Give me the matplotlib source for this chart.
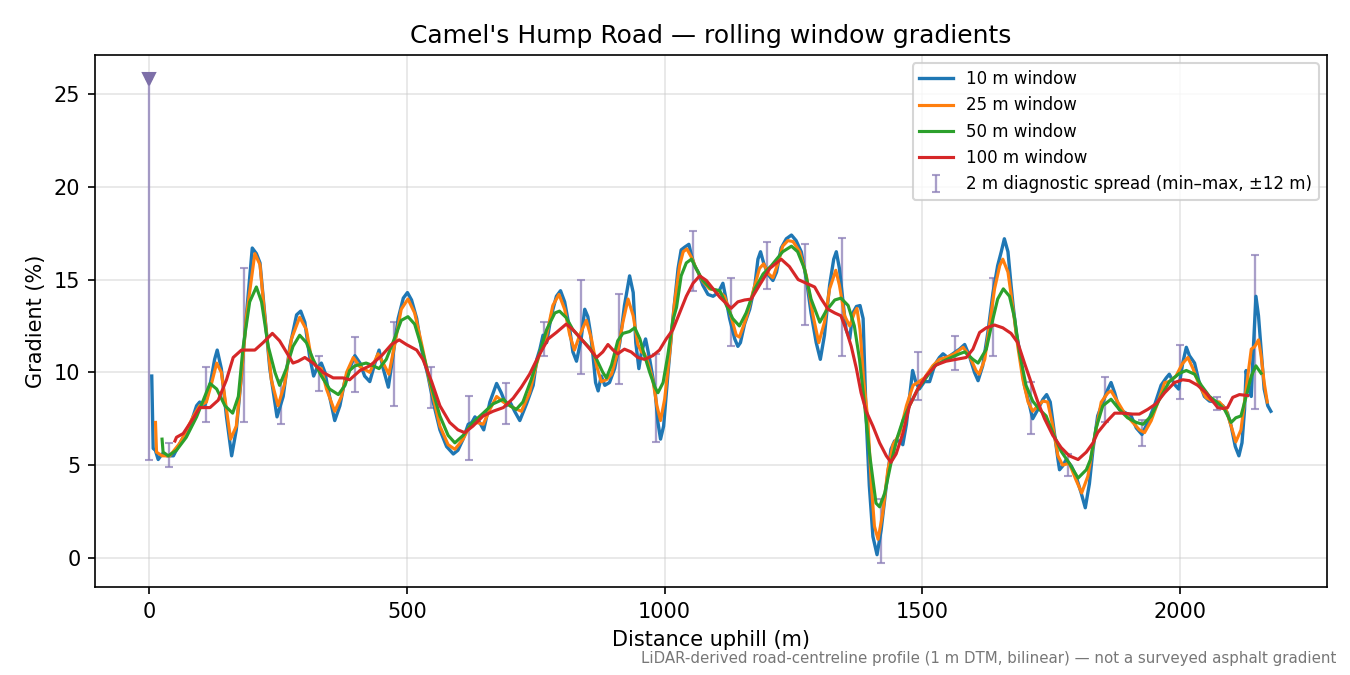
import matplotlib
matplotlib.use('Agg')
import matplotlib.pyplot as plt
import numpy as np

# 10 m window
x10 = [5, 7.8, 12, 17.5, 25, 35, 47, 60, 79, 92, 98, 108, 118, 127, 132, 140, 150, 160, 169, 179,
       189, 200, 208, 215, 224, 234, 248, 260, 273, 286, 294, 302, 311, 319, 325, 334, 341, 350, 360, 370,
       380, 389, 399, 409, 418, 428, 438, 446, 454, 464, 473, 483, 493, 501, 509, 519, 528, 541, 551, 564,
       577, 590, 599, 609, 619, 626, 632, 641, 649, 661, 674, 683, 693, 700, 709, 719, 732, 745, 752, 758,
       764, 771, 780, 790, 798, 806, 816, 822, 829, 838, 845, 851, 856, 861, 866, 871, 877, 884, 893, 903,
       913, 922, 932, 939, 944, 950, 955, 963, 971, 981, 987, 992, 998, 1006, 1016, 1026, 1032, 1039, 1047, 1052,
       1058, 1065, 1074, 1084, 1094, 1104, 1113, 1118, 1126, 1136, 1142, 1147, 1155, 1165, 1175, 1181, 1186, 1192, 1200, 1210,
       1217, 1226, 1236, 1246, 1255, 1265, 1275, 1284, 1294, 1302, 1310, 1320, 1328, 1333, 1339, 1346, 1352, 1359, 1365, 1372,
       1379, 1385, 1388, 1391, 1397, 1404, 1412, 1420, 1430, 1439, 1446, 1456, 1462, 1469, 1476, 1481, 1487, 1494, 1504, 1514,
       1524, 1533, 1540, 1549, 1559, 1572, 1582, 1591, 1601, 1608, 1617, 1627, 1637, 1646, 1653, 1659, 1666, 1672, 1676, 1682,
       1688, 1698, 1708, 1714, 1724, 1734, 1741, 1748, 1756, 1763, 1766, 1772, 1779, 1789, 1798, 1808, 1816, 1824, 1831, 1840,
       1850, 1860, 1866, 1873, 1882, 1895, 1905, 1915, 1926, 1937, 1950, 1963, 1973, 1979, 1989, 1997, 2005, 2012, 2018, 2028,
       2037, 2047, 2057, 2070, 2083, 2092, 2099, 2107, 2114, 2120, 2125, 2128, 2133, 2138, 2142, 2147, 2152, 2157, 2163, 2170,
       2176]
y10 = [9.8, 5.9, 5.8, 5.3, 5.6, 5.5, 5.5, 6.2, 7.1, 8.2, 8.4, 8.2, 9.3, 10.7, 11.2, 10.2, 7.6, 5.5, 6.9, 9.8,
       13.2, 16.7, 16.4, 15.9, 13.2, 10.2, 7.6, 8.7, 11.4, 13.1, 13.3, 12.7, 10.9, 9.8, 10.2, 10.5, 10.0, 8.7, 7.4, 8.2,
       9.6, 10.2, 10.9, 10.5, 9.8, 9.5, 10.5, 11.2, 10.2, 9.2, 10.9, 12.9, 14.0, 14.3, 13.9, 12.9, 11.3, 9.8, 8.4, 6.9,
       6.0, 5.6, 5.8, 6.4, 7.2, 7.3, 7.6, 7.3, 6.9, 8.4, 9.4, 8.9, 8.2, 8.4, 7.9, 7.4, 8.3, 9.3, 10.7, 11.25,
       12.0, 11.6, 13.05, 14.1, 14.4, 13.8, 12.3, 11.1, 10.6, 11.8, 13.4, 13.0, 12.15, 10.9, 9.45, 9.0, 9.8, 9.3, 9.45, 10.2,
       11.6, 13.6, 15.2, 14.3, 11.6, 10.2, 11.1, 11.8, 10.7, 9.1, 7.3, 6.4, 7.1, 9.8, 12.9, 15.6, 16.6, 16.75, 16.9, 16.3,
       15.75, 15.4, 14.7, 14.2, 14.1, 14.3, 14.8, 14.1, 12.9, 11.8, 11.4, 11.6, 12.6, 13.4, 14.7, 16.1, 16.5, 15.9, 15.3, 14.95,
       15.4, 16.7, 17.2, 17.4, 17.1, 16.5, 15.0, 13.2, 11.6, 10.7, 12.0, 14.7, 16.1, 16.5, 15.6, 13.8, 12.3, 11.8, 13.2, 13.55,
       13.6, 12.9, 10.2, 7.5, 3.9, 1.15, 0.17, 1.5, 3.9, 5.85, 6.3, 6.3, 6.1, 7.2, 8.9, 10.1, 9.5, 9.1, 9.5, 9.5,
       10.4, 10.8, 11.0, 10.8, 11.0, 11.25, 11.5, 10.9, 10.0, 9.55, 10.35, 12.15, 14.3, 15.75, 16.5, 17.2, 16.5, 14.7, 13.6, 12.15,
       11.25, 9.3, 8.2, 7.5, 8.0, 8.55, 8.8, 8.4, 6.75, 5.3, 4.75, 4.95, 5.3, 4.95, 4.4, 3.5, 2.7, 4.0, 5.85, 7.65,
       8.4, 9.1, 9.45, 8.9, 8.0, 7.8, 7.65, 7.0, 6.65, 7.3, 8.2, 9.3, 9.7, 9.9, 9.35, 9.1, 10.5, 11.35, 10.9, 10.5,
       9.45, 8.7, 8.45, 8.4, 8.2, 7.8, 7.1, 6.0, 5.5, 6.2, 8.0, 10.1, 9.1, 8.7, 11.25, 14.1, 13.05, 11.25, 9.1, 8.2,
       7.9]

# 25 m window
x25 = [12.3, 14.3, 25, 40, 60, 85, 98, 111, 121, 131, 140, 150, 158, 169, 179, 189, 205, 215, 224, 237,
       250, 263, 276, 292, 305, 315, 325, 334, 344, 360, 373, 383, 396, 409, 428, 444, 454, 465, 477, 489,
       502, 515, 528, 544, 564, 580, 593, 609, 622, 635, 648, 661, 674, 687, 706, 722, 738, 751, 761, 771,
       783, 795, 806, 816, 825, 835, 848, 858, 868, 877, 887, 897, 909, 919, 929, 939, 948, 955, 961, 968,
       977, 985, 992, 1000, 1010, 1019, 1029, 1036, 1043, 1052, 1061, 1074, 1087, 1103, 1116, 1126, 1139, 1145, 1158, 1171,
       1184, 1192, 1202, 1210, 1220, 1229, 1239, 1249, 1262, 1275, 1288, 1299, 1310, 1320, 1332, 1339, 1349, 1359, 1368, 1373,
       1379, 1386, 1394, 1401, 1407, 1414, 1423, 1433, 1443, 1456, 1469, 1482, 1491, 1504, 1520, 1533, 1546, 1562, 1579, 1591,
       1604, 1610, 1621, 1630, 1640, 1650, 1656, 1666, 1676, 1685, 1695, 1705, 1714, 1724, 1734, 1743, 1753, 1763, 1772, 1785,
       1798, 1809, 1821, 1834, 1847, 1860, 1866, 1879, 1892, 1905, 1921, 1931, 1944, 1957, 1970, 1979, 1992, 2004, 2015, 2025,
       2037, 2050, 2063, 2076, 2089, 2099, 2108, 2118, 2128, 2138, 2145, 2152, 2157, 2163, 2169]
y25 = [7.3, 5.7, 5.5, 5.5, 6.2, 7.6, 8.2, 8.4, 9.4, 10.5, 10.0, 8.0, 6.4, 7.1, 9.8, 13.1, 16.4, 15.8, 13.1, 9.6,
       8.2, 9.4, 11.8, 12.97, 12.3, 10.7, 10.3, 10.2, 9.1, 7.9, 8.7, 10.0, 10.8, 10.3, 10.0, 11.0, 10.5, 9.9, 11.6, 13.4,
       13.95, 13.2, 11.6, 9.5, 7.1, 6.1, 5.85, 6.4, 7.1, 7.3, 7.2, 8.0, 8.7, 8.4, 8.1, 7.9, 8.9, 10.4, 11.3, 12.0,
       13.6, 14.2, 13.4, 12.0, 11.2, 12.0, 12.8, 11.8, 10.35, 9.5, 9.6, 9.9, 11.1, 12.7, 13.95, 13.05, 11.5, 11.1, 11.0, 10.5,
       9.6, 8.2, 7.4, 8.55, 11.1, 13.7, 15.75, 16.5, 16.65, 16.2, 15.6, 14.9, 14.5, 14.4, 14.1, 13.3, 12.0, 11.9, 12.9, 14.3,
       15.6, 15.85, 15.3, 15.1, 15.9, 16.8, 17.1, 17.05, 16.5, 15.2, 13.05, 11.6, 12.7, 14.5, 15.5, 14.7, 13.05, 12.5, 13.2, 13.45,
       12.3, 9.6, 7.5, 3.9, 1.7, 1.0, 2.4, 4.75, 6.1, 6.7, 8.2, 9.3, 9.45, 9.7, 10.35, 10.7, 10.8, 11.0, 11.35, 10.9,
       10.1, 9.9, 10.7, 12.5, 14.5, 15.75, 16.1, 15.4, 13.4, 11.4, 9.6, 8.4, 7.9, 8.2, 8.45, 8.4, 7.1, 5.5, 5.0, 5.1,
       4.2, 3.5, 4.4, 6.5, 8.4, 8.9, 9.0, 8.4, 7.8, 7.4, 6.9, 6.75, 7.4, 8.4, 9.45, 9.5, 9.8, 10.45, 10.8, 10.2,
       9.3, 8.65, 8.45, 8.4, 8.0, 7.1, 6.25, 6.9, 9.1, 11.25, 11.4, 11.75, 10.9, 9.45, 8.4]

# 50 m window
x50 = [25, 27, 37, 53, 72, 92, 105, 118, 131, 147, 162, 173, 182, 195, 208, 218, 231, 244, 253, 266,
       279, 292, 305, 318, 334, 350, 367, 380, 389, 399, 421, 435, 446, 460, 477, 489, 502, 515, 528, 544,
       564, 580, 593, 609, 628, 648, 667, 687, 700, 712, 725, 741, 758, 771, 787, 796, 809, 822, 838, 855,
       868, 880, 887, 897, 909, 919, 932, 942, 952, 961, 971, 981, 987, 997, 1006, 1016, 1023, 1032, 1042, 1052,
       1061, 1074, 1090, 1107, 1120, 1132, 1145, 1158, 1175, 1191, 1207, 1229, 1246, 1258, 1271, 1284, 1301, 1313, 1330, 1342,
       1356, 1368, 1378, 1388, 1398, 1410, 1417, 1427, 1439, 1452, 1462, 1475, 1491, 1507, 1524, 1540, 1556, 1572, 1582, 1598,
       1608, 1624, 1637, 1646, 1657, 1669, 1679, 1688, 1701, 1714, 1727, 1740, 1753, 1769, 1785, 1802, 1818, 1826, 1837, 1850,
       1866, 1882, 1898, 1915, 1928, 1944, 1960, 1979, 1999, 2012, 2028, 2041, 2057, 2073, 2086, 2099, 2108, 2118, 2128, 2138,
       2147, 2157]
y50 = [6.4, 5.7, 5.5, 5.8, 6.5, 7.6, 8.5, 9.4, 9.1, 8.2, 7.8, 8.7, 11.3, 13.8, 14.6, 13.8, 11.4, 10.0, 9.3, 10.2,
       11.4, 12.0, 11.6, 10.7, 9.8, 9.1, 8.8, 9.3, 10.1, 10.35, 10.5, 10.35, 10.2, 10.7, 11.9, 12.8, 13.0, 12.6, 11.4, 9.6,
       7.65, 6.6, 6.2, 6.6, 7.3, 7.8, 8.3, 8.55, 8.2, 8.0, 8.4, 9.6, 11.1, 12.3, 13.2, 13.3, 12.95, 12.3, 11.8, 11.3,
       10.7, 10.0, 9.7, 10.4, 11.7, 12.1, 12.2, 12.4, 11.8, 10.9, 10.0, 9.2, 8.9, 9.45, 10.9, 12.8, 13.5, 15.2, 15.9, 16.1,
       15.6, 14.95, 14.5, 14.4, 13.6, 12.9, 12.5, 13.2, 14.5, 15.3, 15.75, 16.5, 16.8, 16.5, 15.6, 13.95, 12.7, 13.3, 13.9, 14.0,
       13.6, 12.5, 10.7, 8.2, 5.5, 2.95, 2.75, 3.5, 5.1, 6.55, 7.4, 8.2, 9.1, 9.7, 10.35, 10.6, 10.8, 11.0, 11.1, 10.7,
       10.5, 11.25, 12.9, 13.95, 14.5, 14.1, 12.9, 11.1, 9.3, 8.45, 8.0, 7.65, 6.75, 5.75, 5.1, 4.3, 4.75, 5.3, 7.0, 8.2,
       8.55, 8.0, 7.55, 7.3, 7.2, 7.65, 8.55, 9.5, 9.95, 10.1, 9.9, 9.3, 8.7, 8.35, 8.0, 7.3, 7.55, 7.65, 8.7, 9.8,
       10.35, 9.95]

# 100 m window
x100 = [50, 53, 66, 85, 98, 118, 134, 150, 163, 179, 205, 221, 239, 253, 266, 279, 289, 302, 318, 337,
        357, 376, 389, 409, 428, 451, 470, 485, 499, 519, 531, 548, 564, 583, 599, 612, 628, 648, 667, 687,
        706, 722, 738, 754, 774, 790, 809, 822, 838, 855, 868, 880, 890, 900, 909, 922, 935, 948, 961, 977,
        990, 1003, 1016, 1029, 1042, 1055, 1068, 1081, 1094, 1107, 1120, 1129, 1142, 1155, 1168, 1184, 1204, 1226, 1242, 1259,
        1275, 1291, 1304, 1317, 1330, 1342, 1352, 1362, 1372, 1381, 1391, 1404, 1417, 1430, 1439, 1449, 1462, 1475, 1491, 1507,
        1527, 1546, 1566, 1585, 1598, 1611, 1624, 1640, 1656, 1672, 1685, 1698, 1711, 1724, 1737, 1753, 1769, 1785, 1802, 1818,
        1831, 1840, 1856, 1873, 1889, 1908, 1921, 1937, 1953, 1970, 1989, 2005, 2018, 2034, 2050, 2063, 2073, 2083, 2092, 2102,
        2115, 2131]
y100 = [6.3, 6.5, 6.7, 7.5, 8.1, 8.1, 8.5, 9.6, 10.8, 11.2, 11.2, 11.6, 12.1, 11.7, 11.1, 10.5, 10.6, 10.8, 10.5, 10.0,
        9.7, 9.7, 9.6, 10.1, 10.35, 10.9, 11.5, 11.75, 11.5, 11.2, 10.7, 9.5, 8.2, 7.3, 6.9, 6.75, 7.1, 7.65, 7.9, 8.1,
        8.6, 9.2, 9.9, 10.8, 11.8, 12.15, 12.6, 12.3, 11.8, 11.25, 10.8, 11.1, 11.5, 11.2, 11.0, 11.25, 11.1, 10.8, 10.7, 10.9,
        11.2, 11.8, 12.3, 13.2, 14.1, 14.8, 15.2, 14.95, 14.5, 14.05, 13.7, 13.45, 13.8, 13.9, 13.95, 14.7, 15.6, 16.1, 15.7, 15.0,
        14.8, 14.6, 13.95, 13.4, 13.2, 13.05, 12.3, 11.4, 10.2, 8.9, 7.9, 7.1, 6.2, 5.5, 5.15, 5.6, 6.7, 8.2, 9.1, 9.8,
        10.4, 10.6, 10.7, 10.8, 11.25, 12.15, 12.4, 12.55, 12.4, 12.1, 11.6, 10.5, 9.45, 8.4, 7.5, 6.6, 5.95, 5.5, 5.3, 5.7,
        6.2, 6.75, 7.3, 7.8, 7.8, 7.75, 7.75, 8.0, 8.3, 8.9, 9.45, 9.6, 9.55, 9.3, 8.9, 8.45, 8.1, 8.05, 8.1, 8.65,
        8.8, 8.75]

# 2 m diagnostic spread (min-max within +-12 m)
spread_x = [0, 38, 110, 184, 255, 329, 400, 475, 546, 620, 692, 765, 837, 911, 983, 1055,
            1128, 1199, 1273, 1345, 1419, 1491, 1564, 1637, 1710, 1782, 1855, 1926, 2000, 2072, 2145]
spread_lo = [5.27, 4.9, 7.3, 7.3, 7.2, 9.0, 8.95, 8.2, 8.1, 5.3, 7.2, 10.9, 9.9, 9.35, 6.25, 14.4,
             11.4, 14.5, 12.55, 10.9, -0.28, 8.5, 10.1, 10.9, 6.65, 4.4, 7.3, 6.05, 8.55, 7.95, 8.0]
spread_hi = [25.8, 6.2, 10.3, 15.6, 9.6, 10.9, 11.9, 12.7, 10.3, 8.7, 9.45, 12.7, 15.0, 14.2, 11.0, 17.6,
             15.1, 17.05, 16.9, 17.25, 3.15, 11.1, 11.95, 15.1, 9.5, 5.6, 9.75, 7.45, 11.5, 8.65, 16.3]

fig, ax = plt.subplots(figsize=(9, 4.5), dpi=150)
fig.subplots_adjust(left=0.0704, right=0.983, top=0.9185, bottom=0.130)

ax.plot(x10, y10, color='#1f77b4', lw=1.6, label='10 m window', zorder=2)
ax.plot(x25, y25, color='#ff7f0e', lw=1.5, label='25 m window', zorder=2)
ax.plot(x50, y50, color='#2ca02c', lw=1.5, label='50 m window', zorder=2)
ax.plot(x100, y100, color='#d62728', lw=1.5, label='100 m window', zorder=2)

lo = np.array(spread_lo)
hi = np.array(spread_hi)
mid = (lo + hi) / 2
ax.errorbar(spread_x, mid, yerr=[mid - lo, hi - mid], fmt='none', ecolor='#8c7fb8',
            alpha=0.75, elinewidth=1.1, capsize=2, zorder=1,
            label='2 m diagnostic spread (min\u2013max, \u00b112 m)')
# the one spread that runs far above the rest
i_max = int(np.argmax(hi))
ax.plot(spread_x[i_max], hi[i_max], marker='v', color='#7d6fa8', markersize=6,
        linestyle='none', zorder=3)

ax.set_xlim(-105, 2285)
ax.set_title("Camel's Hump Road \u2014 rolling window gradients", fontsize=12)
ax.set_xlabel('Distance uphill (m)', fontsize=10)
ax.set_ylabel('Gradient (%)', fontsize=10)
ax.grid(True, color='#cccccc', alpha=0.5, linewidth=0.8)
ax.set_axisbelow(True)

ax.legend(loc='upper right', fontsize=8)

fig.text(0.99, 0.013, 'LiDAR-derived road-centreline profile (1 m DTM, bilinear) \u2014 not a surveyed asphalt gradient',
         ha='right', va='bottom', fontsize=7.2, color='#777777')

fig.savefig('out.png', dpi=150)
